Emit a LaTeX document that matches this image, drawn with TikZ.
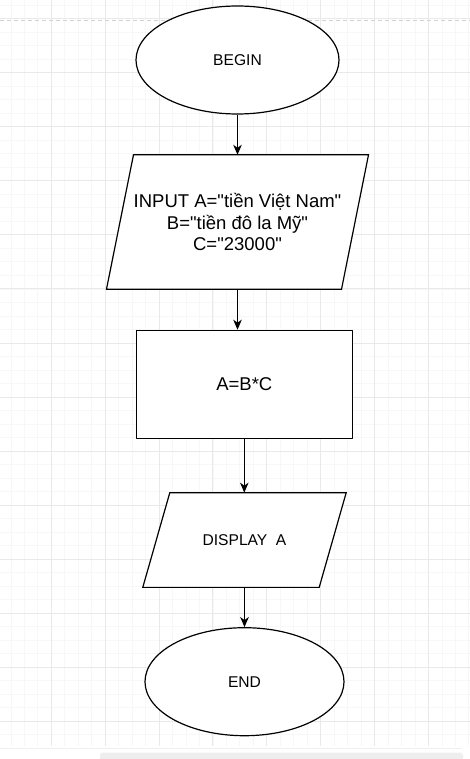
\documentclass[tikz,border=0pt]{standalone}
\usepackage{fontspec}
\setmainfont{Liberation Sans}
\usetikzlibrary{shapes.geometric,arrows.meta,backgrounds}
\begin{document}
\begin{tikzpicture}[x=1pt,y=-1pt,>={Stealth[length=10pt,width=8.5pt,inset=3pt]}, line join=round,
	gridminor/.style={gray!6,line width=0.8pt},
	gridmajor/.style={gray!17,line width=0.9pt},
	shapeline/.style={draw=black,fill=white,line width=1.2pt},
	startend/.style={ellipse,shapeline,inner sep=0pt,minimum height=108pt,font=\fontsize{15.6}{18}\selectfont},
	process/.style={rectangle,shapeline,inner sep=0pt,font=\fontsize{18.5}{21.7}\selectfont},
	iotext/.style={rectangle,inner sep=0pt,align=center},
	flow/.style={->,line width=1.2pt}]
	\useasboundingbox (0,0) rectangle (470,759);
	% flowchart
	\node (begin) at (237.5,60) [startend, minimum width=203pt] {BEGIN};
	\node (in) at (237.5,222) [iotext, minimum width=201pt, minimum height=134pt,
		font=\fontsize{18.5}{21.7}\selectfont] {INPUT A=\textquotedbl tiền Việt Nam\textquotedbl\\B=\textquotedbl tiền đô la Mỹ\textquotedbl\\C=\textquotedbl 23000\textquotedbl};
	\node (calc) at (244.3,384.3) [process, minimum width=216pt, minimum height=108pt] {A=B*C};
	\node (show) at (244.5,540) [iotext, minimum width=149pt, minimum height=94.3pt,
		font=\fontsize{15.6}{18}\selectfont] {DISPLAY\ \ A};
	\node (end) at (244.5,681.7) [startend, minimum width=199pt] {END};
	\draw[flow] (begin.south)--(in.north);
	\draw[flow] (in.south)--(in.south |- calc.north);
	\draw[flow] (calc.south)--(calc.south |- show.north);
	\draw[flow] (show.south)--(end.north);
	\begin{scope}[on background layer]
		% background grid
		\fill[white] (0,0) rectangle (470,759);
		\foreach \k in {0,...,34} \draw[gridminor] ({10.9+13.47*\k},0)--({10.9+13.47*\k},746);
		\foreach \k in {0,...,54} \draw[gridminor] (0,{5.2+13.51*\k})--(470,{5.2+13.51*\k});
		\foreach \k in {0,...,7} \draw[gridmajor] ({51.3+53.88*\k},0)--({51.3+53.88*\k},746);
		\foreach \k in {0,...,13} \draw[gridmajor] (0,{18.65+54.05*\k})--(470,{18.65+54.05*\k});
		\draw[gray!35,line width=0.9pt,dash pattern=on 4pt off 3pt] (0,20)--(470,20);
		\fill[white] (0,746) rectangle (470,759);
		\draw[gray!12,line width=0.8pt] (0,748)--(462,748);
		\fill[gray!13,rounded corners=3pt] (100,752.5) rectangle (463,762);
		% parallelograms
		\draw[shapeline] (in.north west)--([xshift=27pt]in.north east)--(in.south east)--([xshift=-27pt]in.south west)--cycle;
		\draw[shapeline] (show.north west)--([xshift=27pt]show.north east)--(show.south east)--([xshift=-27pt]show.south west)--cycle;
	\end{scope}
\end{tikzpicture}
\end{document}
